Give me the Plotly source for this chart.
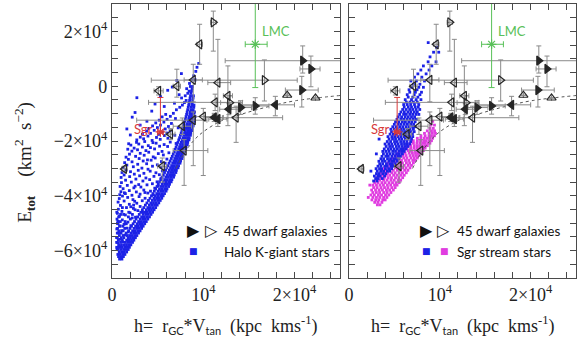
import plotly.graph_objects as go

# Units used in the data tables below:
#   h  in 10^3 kpc km s^-1,   E_tot in 10^3 km^2 s^-2
K = 1000.0

# ---------------------------------------------------------------------------
# Halo K-giant stars (left panel)
# dense ridge close to the high-h envelope: rows of (E_tot, [h values])
# ---------------------------------------------------------------------------
HALO_RIDGE_ROWS = [
    (-63.1, [0.82, 1.08]), (-62.2, [0.71, 0.98, 1.24]),
    (-61.4, [0.63, 0.90, 1.17, 1.41]), (-60.5, [0.78, 1.05, 1.33, 1.60]),
    (-59.6, [0.69, 1.00, 1.28, 1.52, 1.77]), (-58.8, [0.51, 0.80, 1.10, 1.39, 1.66, 1.90]),
    (-57.9, [0.72, 1.03, 1.31, 1.58, 1.84, 2.06]), (-57.0, [0.50, 0.93, 1.44, 1.71, 1.99, 2.24]),
    (-56.2, [0.68, 1.12, 1.60, 1.87, 2.13, 2.39]), (-55.3, [0.58, 1.01, 1.29, 1.76, 2.02, 2.30, 2.56]),
    (-54.5, [0.80, 1.21, 1.67, 1.94, 2.21, 2.48, 2.72]), (-53.6, [0.57, 0.99, 1.55, 2.08, 2.36, 2.63, 2.90]),
    (-52.8, [0.74, 1.22, 1.82, 2.25, 2.52, 2.81, 3.07]), (-51.9, [0.60, 1.39, 1.97, 2.41, 2.69, 2.96, 3.24]),
    (-51.1, [0.82, 1.19, 2.13, 2.58, 2.86, 3.14, 3.41]), (-50.2, [0.66, 1.56, 2.31, 2.75, 3.02, 3.31, 3.58]),
    (-49.4, [0.90, 1.43, 2.46, 2.91, 3.20, 3.47, 3.75]), (-48.5, [0.54, 2.00, 2.63, 3.08, 3.36, 3.64, 3.92]),
    (-47.7, [0.72, 1.79, 2.82, 3.24, 3.53, 3.81, 4.10]), (-46.8, [0.93, 2.23, 2.98, 3.41, 3.70, 3.98, 4.27]),
    (-46.0, [0.52, 1.83, 3.15, 3.58, 3.87, 4.15, 4.44]), (-45.1, [2.52, 3.32, 3.75, 4.03, 4.32, 4.61]),
    (-44.3, [1.13, 3.48, 3.92, 4.20, 4.49, 4.78]), (-43.4, [2.36, 3.65, 4.09, 4.37, 4.66, 4.95]),
    (-42.6, [3.82, 4.25, 4.54, 4.83, 5.12]), (-41.7, [3.99, 4.42, 4.71, 5.00, 5.28]),
    (-40.9, [4.16, 4.59, 4.88, 5.17, 5.45]), (-40.0, [4.32, 4.75, 5.04, 5.33, 5.60]),
    (-39.2, [4.48, 4.90, 5.19, 5.48, 5.75]), (-38.3, [4.63, 5.05, 5.34, 5.63, 5.92]),
    (-37.5, [4.78, 5.20, 5.49, 5.78, 6.02]), (-36.6, [4.93, 5.35, 5.63, 5.92, 6.20]),
    (-35.8, [5.07, 5.49, 5.77, 6.06, 6.30]), (-34.9, [5.21, 5.63, 5.91, 6.20, 6.48]),
    (-34.1, [5.35, 5.77, 6.05, 6.33, 6.56]), (-33.2, [5.49, 5.90, 6.18, 6.46, 6.74]),
    (-32.4, [5.62, 6.03, 6.31, 6.59, 6.82]), (-31.5, [5.75, 6.16, 6.44, 6.72, 6.99]),
    (-30.7, [5.88, 6.29, 6.57, 6.84, 7.05]), (-29.8, [6.01, 6.41, 6.69, 6.96, 7.23]),
    (-29.0, [6.13, 6.53, 6.81, 7.08, 7.29]), (-28.1, [6.25, 6.65, 6.93, 7.19, 7.45]),
    (-27.3, [6.37, 6.77, 7.04, 7.30, 7.51]), (-26.4, [6.49, 6.88, 7.15, 7.41, 7.67]),
    (-25.6, [6.60, 6.99, 7.26, 7.52, 7.72]), (-24.7, [6.71, 7.10, 7.37, 7.62, 7.87]),
    (-23.9, [6.82, 7.20, 7.47, 7.72, 7.92]), (-23.0, [6.92, 7.30, 7.57, 7.82, 8.07]),
    (-22.2, [7.02, 7.40, 7.67, 7.92, 8.11]), (-21.3, [7.12, 7.50, 7.77, 8.01, 8.25]),
    (-20.5, [7.22, 7.60, 7.86, 8.10, 8.29]), (-19.6, [7.31, 7.69, 7.95, 8.19, 8.43]),
    (-18.8, [7.40, 7.78, 8.04, 8.28, 8.46]), (-17.9, [7.49, 7.87, 8.13, 8.36, 8.59]),
    (-17.1, [7.58, 7.95, 8.21, 8.44, 8.62]), (-16.2, [7.66, 8.03, 8.29, 8.52, 8.75]),
    (-15.4, [7.74, 8.11, 8.37, 8.60, 8.77]), (-14.5, [7.82, 8.19, 8.45, 8.67, 8.89]),
    (-13.7, [7.90, 8.26, 8.52, 8.74, 8.91]), (-12.8, [7.97, 8.33, 8.59, 8.81, 9.02]),
    (-12.0, [8.04, 8.40, 8.66, 8.87, 9.03]), (-11.1, [8.11, 8.47, 8.72, 8.93, 9.10]),
    (-10.3, [8.17, 8.53, 8.78, 8.98]), (-9.4, [8.23, 8.59, 8.84, 9.05]),
    (-8.6, [7.05, 8.29, 8.64, 8.89]), (-7.7, [7.42, 8.35, 8.69, 8.96]),
    (-6.9, [7.71, 8.40, 8.74, 8.98]), (-6.0, [7.93, 8.45, 8.79]),
    (-5.2, [8.12, 8.50, 8.84]), (-4.3, [7.62, 8.55, 8.88]),
    (-3.5, [8.02, 8.60, 8.92]), (-2.6, [8.30, 8.65]),
    (-1.8, [8.44, 8.71]), (-0.9, [8.18, 8.77]),
    (-0.1, [8.58, 8.83]), (1.0, [8.49]), (2.3, [8.81, 9.12]),
    (3.8, [8.95]), (5.4, [9.18]), (6.9, [9.31]), (8.3, [9.50]),
]

# interior of the halo distribution: individual (h, E_tot) points
HALO_SCATTER = [
    (0.55, -59.4), (0.92, -58.6), (0.61, -57.1), (1.18, -56.8), (0.83, -55.9),
    (0.49, -55.2), (1.42, -54.3), (0.71, -53.6), (1.05, -52.7), (0.52, -52.1),
    (1.63, -51.8), (0.88, -51.0), (1.31, -50.4), (0.59, -50.1), (2.05, -50.9),
    (1.77, -53.2), (0.63, -49.3), (1.12, -48.8), (1.74, -49.6), (2.21, -48.1),
    (0.81, -47.5), (1.46, -47.0), (2.57, -47.8), (0.58, -46.4), (1.97, -46.2),
    (1.08, -45.7), (2.83, -45.4), (0.69, -44.9), (1.58, -44.3), (2.34, -44.6),
    (3.08, -43.9), (0.92, -43.5), (1.89, -43.1), (2.71, -42.7), (0.66, -42.3),
    (1.32, -41.9), (2.29, -41.4), (3.31, -41.8), (0.79, -41.0), (1.71, -40.6),
    (2.96, -40.3), (3.62, -40.9), (1.14, -40.1), (2.48, -42.0), (1.27, -46.8),
    (3.34, -45.9), (2.05, -44.0), (0.84, -39.6), (1.46, -39.2), (2.18, -39.8),
    (3.07, -39.4), (3.92, -39.0), (4.51, -39.7), (0.97, -38.5), (1.89, -38.1),
    (2.66, -38.6), (3.48, -37.9), (4.21, -38.3), (1.21, -37.4), (2.39, -37.1),
    (3.16, -36.8), (4.68, -37.2), (0.88, -36.6), (1.67, -36.2), (2.92, -35.9),
    (3.83, -36.0), (4.42, -35.6), (5.04, -36.4), (1.03, -35.2), (2.11, -35.0),
    (3.38, -34.6), (4.93, -34.9), (1.48, -34.3), (2.61, -33.9), (4.12, -34.1),
    (5.36, -33.7), (0.99, -33.3), (1.93, -33.0), (3.02, -32.7), (3.71, -33.5),
    (4.59, -32.9), (1.32, -32.4), (2.44, -32.1), (3.49, -31.8), (5.18, -32.3),
    (1.09, -31.5), (2.02, -31.2), (4.18, -31.0), (2.87, -30.7), (3.94, -30.3),
    (1.56, -30.6), (5.51, -30.9), (4.81, -31.6), (2.53, -36.5), (1.35, -38.9),
    (3.60, -38.8), (1.21, -29.7), (2.33, -29.4), (3.27, -29.9), (4.43, -29.2),
    (5.35, -29.6), (1.62, -28.8), (2.81, -28.5), (3.79, -28.3), (4.96, -28.7),
    (5.82, -28.1), (1.38, -27.9), (2.19, -27.6), (3.41, -27.3), (4.28, -27.0),
    (5.41, -27.5), (1.79, -26.7), (2.97, -26.4), (3.88, -26.9), (4.73, -26.2),
    (6.01, -26.6), (1.53, -25.9), (2.58, -25.6), (3.52, -25.2), (4.51, -25.8),
    (5.62, -25.1), (1.91, -24.8), (3.09, -24.5), (4.02, -24.1), (5.07, -24.6),
    (6.23, -24.3), (2.17, -23.7), (2.79, -23.2), (3.71, -23.5), (4.66, -22.9),
    (5.48, -23.8), (2.42, -22.6), (3.32, -22.2), (4.21, -22.4), (5.21, -21.9),
    (6.09, -22.0), (2.06, -21.5), (2.93, -21.1), (3.97, -21.7), (4.83, -20.8),
    (5.71, -21.3), (2.68, -20.5), (3.58, -20.2), (4.48, -20.6), (6.38, -20.4),
    (1.72, -23.0), (2.71, -19.6), (3.46, -19.2), (4.39, -19.8), (5.28, -19.4),
    (6.12, -19.0), (3.09, -18.6), (3.93, -18.2), (4.87, -18.7), (5.74, -18.0),
    (3.33, -17.5), (4.21, -17.2), (5.09, -17.6), (6.02, -17.1), (3.78, -16.4),
    (4.62, -16.1), (5.51, -16.7), (6.37, -16.3), (4.02, -15.4), (4.97, -15.1),
    (5.83, -15.6), (4.44, -14.5), (5.31, -14.2), (6.18, -14.7), (4.79, -13.4),
    (5.68, -13.1), (6.51, -13.6), (5.17, -12.4), (6.03, -12.1), (5.49, -11.2),
    (6.39, -11.0), (5.88, -10.3), (6.72, -9.9), (4.35, -9.1), (3.82, -12.8),
    (3.08, -14.2), (4.71, -6.5), (5.31, -3.8), (6.10, -1.5), (5.72, -7.4),
    (7.10, 2.1), (7.60, 4.6), (6.60, -0.3), (2.21, -11.3), (2.52, -9.6),
    (2.72, -4.2), (1.62, -15.6), (1.82, -21.0), (2.00, -17.8), (6.84, -6.2),
    (7.35, -3.1), (6.95, -11.8), (7.25, -15.2), (6.88, -17.9), (7.02, -20.9),
]

# ---------------------------------------------------------------------------
# Sgr stream stars (right panel): rows of (E_tot, [h values])
# ---------------------------------------------------------------------------
SGR_BLUE_ROWS = [
    (-34.6, [2.71, 3.08]), (-33.7, [2.93, 3.21, 3.66]),
    (-32.8, [2.79, 3.17, 3.43, 3.92]), (-31.9, [3.02, 3.31, 3.72, 4.05]),
    (-31.0, [2.41, 3.11, 3.49, 3.81, 4.22, 4.48]), (-30.1, [2.98, 3.36, 3.59, 4.01, 4.37, 4.69]),
    (-29.2, [3.19, 3.52, 3.94, 4.21, 4.63, 4.88]), (-28.3, [3.38, 3.71, 4.12, 4.49, 4.77, 5.08]),
    (-27.4, [3.29, 3.68, 3.97, 4.39, 4.71, 4.96, 5.31]), (-26.5, [3.51, 3.82, 4.24, 4.57, 4.92, 5.19, 5.47]),
    (-25.6, [3.63, 4.05, 4.33, 4.72, 5.08, 5.41, 5.66]), (-24.7, [3.01, 3.79, 4.18, 4.52, 4.87, 5.23, 5.54, 5.88]),
    (-23.8, [3.72, 4.07, 4.41, 4.81, 5.12, 5.49, 5.79, 6.07]), (-22.9, [3.88, 4.31, 4.62, 4.98, 5.33, 5.68, 5.99, 6.28]),
    (-22.0, [4.09, 4.48, 4.79, 5.21, 5.52, 5.87, 6.21, 6.49]), (-21.1, [3.97, 4.38, 4.71, 5.08, 5.41, 5.78, 6.11, 6.39, 6.68]),
    (-20.2, [4.21, 4.58, 5.01, 5.29, 5.69, 6.02, 6.37, 6.79]), (-19.3, [3.31, 4.41, 4.79, 5.12, 5.51, 5.81, 6.19, 6.52, 6.88]),
    (-18.4, [4.29, 4.72, 5.03, 5.38, 5.72, 6.09, 6.41, 6.71, 7.02]), (-17.5, [4.52, 4.88, 5.21, 5.62, 5.91, 6.28, 6.61, 6.98]),
    (-16.6, [4.68, 5.12, 5.39, 5.79, 6.12, 6.49, 6.82, 7.18]), (-15.7, [4.61, 4.98, 5.32, 5.71, 6.02, 6.38, 6.72, 7.09]),
    (-14.8, [4.82, 5.19, 5.58, 5.92, 6.29, 6.62, 7.01, 7.31]), (-13.9, [4.99, 5.41, 5.72, 6.08, 6.43, 6.79, 7.12]),
    (-13.0, [5.12, 5.49, 5.88, 6.21, 6.58, 6.91, 7.28]), (-12.1, [5.28, 5.71, 6.02, 6.38, 6.72, 7.08, 7.41]),
    (-11.2, [5.41, 5.79, 6.18, 6.52, 6.88, 7.22]), (-10.3, [5.58, 6.01, 6.31, 6.69, 7.02, 7.38, 7.69]),
    (-9.4, [5.72, 6.09, 6.48, 6.81, 7.19, 7.52]), (-8.5, [5.91, 6.29, 6.68, 7.01, 7.39, 7.79]),
    (-7.6, [6.08, 6.52, 6.88, 7.28, 7.62]), (-6.7, [6.02, 6.41, 6.79, 7.21, 7.68]),
    (-5.8, [6.31, 6.72, 7.09, 7.51]), (-4.9, [6.19, 6.88, 7.39, 7.92]),
    (-4.0, [6.52, 7.02, 7.58]), (-3.1, [6.41, 7.18, 7.81]),
    (-2.2, [6.69, 7.31, 7.98]), (-1.3, [6.61, 7.49]),
    (-0.4, [6.92, 7.68, 8.19]), (0.7, [7.09, 7.81]),
    (1.9, [6.81, 7.42, 8.31]), (3.3, [7.21, 8.02]),
    (4.5, [7.58, 8.49]), (5.9, [7.91, 8.81]),
    (7.4, [8.19, 9.12]), (8.9, [8.71, 9.58]),
    (10.7, [8.92]), (12.4, [9.31, 9.88]), (14.2, [9.62]), (15.9, [8.72]),
]

SGR_MAGENTA_ROWS = [
    (-43.3, [3.12, 3.41]), (-42.4, [2.83, 3.19, 3.62]),
    (-41.5, [2.52, 2.94, 3.28, 3.71, 3.98]), (-40.6, [2.12, 2.63, 3.02, 3.39, 3.81, 4.17]),
    (-39.7, [2.41, 2.79, 3.23, 3.58, 4.02, 4.38]), (-38.8, [2.62, 3.01, 3.37, 3.82, 4.19, 4.61]),
    (-37.9, [2.49, 2.92, 3.31, 3.68, 4.12, 4.48, 4.88]), (-37.0, [2.71, 3.09, 3.52, 3.91, 4.28, 4.71, 5.08]),
    (-36.1, [2.29, 2.63, 3.02, 3.41, 3.79, 4.22, 4.59, 5.01, 5.29]),
    (-35.2, [2.82, 3.19, 3.62, 3.98, 4.41, 4.79, 5.18, 5.52]),
    (-34.3, [3.01, 3.38, 3.81, 4.19, 4.62, 4.98, 5.41, 5.69]),
    (-33.4, [3.09, 3.52, 3.88, 4.31, 4.68, 5.12, 5.49, 5.91]),
    (-32.5, [3.32, 3.69, 4.12, 4.48, 4.91, 5.28, 5.72, 6.08]),
    (-31.6, [3.49, 3.92, 4.28, 4.71, 5.08, 5.52, 5.88, 6.31]),
    (-30.7, [3.71, 4.08, 4.52, 4.88, 5.32, 5.69, 6.12, 6.48]),
    (-29.8, [3.88, 4.31, 4.68, 5.12, 5.48, 5.92, 6.28, 6.71]),
    (-28.9, [4.12, 4.49, 4.92, 5.28, 5.72, 6.08, 6.52, 6.88]),
    (-28.0, [4.28, 4.72, 5.08, 5.52, 5.88, 6.32, 6.68, 7.09]),
    (-27.1, [4.61, 4.98, 5.42, 5.78, 6.22, 6.58, 7.02, 7.31]),
    (-26.2, [4.78, 5.22, 5.58, 6.02, 6.38, 6.82, 7.18, 7.52]),
    (-25.3, [5.12, 5.48, 5.92, 6.28, 6.72, 7.08, 7.42, 7.71]),
    (-24.4, [5.38, 5.82, 6.18, 6.62, 6.98, 7.32, 7.62, 7.92]),
    (-23.5, [5.72, 6.08, 6.52, 6.88, 7.28, 7.61, 7.88, 8.19]),
    (-22.6, [6.02, 6.38, 6.82, 7.18, 7.52, 7.81, 8.12, 8.38]),
    (-21.7, [6.41, 6.78, 7.18, 7.52, 7.82, 8.08, 8.41, 8.62]),
    (-20.8, [6.72, 7.09, 7.48, 7.82, 8.11, 8.38, 8.69, 8.91]),
    (-19.9, [7.08, 7.52, 7.88, 8.22, 8.48, 8.81, 9.08]),
    (-19.0, [7.52, 7.91, 8.28, 8.62, 8.88, 9.21]),
    (-18.1, [7.92, 8.38, 8.81, 9.08, 9.41]),
    (-17.2, [8.31, 8.82, 9.18, 9.52]),
    (-16.3, [8.62, 9.08, 9.42]), (-15.4, [8.91, 9.28]),
    (-14.2, [9.02, 9.41]), (-12.8, [9.22]),
]

# ---------------------------------------------------------------------------
# Dwarf galaxies: position, marker style and asymmetric errors
# ---------------------------------------------------------------------------
DW_H = [11.1, 9.6, 8.9, 7.1, 5.1, 11.6, 12.7, 11.3, 12.9, 14.1,
        12.8, 15.7, 17.9, 20.8, 19.2, 22.3, 20.9, 21.8, 16.7, 13.6,
        11.2, 11.6, 10.0, 8.9, 7.7, 6.4, 7.9, 5.5, 1.35]
DW_E = [23.3, 15.3, 2.3, 0.0, -1.7, 1.3, -3.5, -5.9, -6.0, -7.8,
        -8.4, -7.2, -6.8, -1.4, -3.3, -4.3, 9.3, 6.3, 2.2, -11.5,
        -11.4, -12.0, -11.1, -12.4, -14.6, -17.5, -23.5, -29.2, -30.2]
DW_SYMBOL = ["triangle-right-open", "triangle-left-open", "triangle-left-open",
             "triangle-left-open", "triangle-left-open", "triangle-left-open",
             "triangle-left-open", "triangle-left-open", "triangle-right-open",
             "triangle-right", "triangle-left", "triangle-right", "triangle-left",
             "triangle-right", "triangle-up-open", "triangle-up-open",
             "triangle-right", "triangle-right", "triangle-right-open",
             "triangle-left-open", "triangle-left", "triangle-left",
             "triangle-left-open", "triangle-left-open", "triangle-left-open",
             "triangle-left-open", "triangle-left-open", "triangle-left-open",
             "triangle-left-open"]
DW_H_MINUS = [0.3, 0.3, 1.0, 0.4, 0.5, 1.1, 0.5, 7.3, 1.0, 1.0,
              1.0, 1.5, 3.6, 1.8, 0.0, 0.0, 8.5, 1.2, 12.4, 1.5,
              1.0, 1.0, 1.0, 6.2, 1.0, 0.5, 1.2, 0.5, 0.3]
DW_H_PLUS = [0.3, 0.3, 1.0, 0.4, 0.5, 1.4, 0.5, 3.0, 1.0, 1.2,
             1.0, 1.5, 2.1, 1.8, 0.0, 0.0, 5.0, 1.0, 3.6, 5.1,
             1.0, 1.0, 1.0, 1.5, 1.0, 0.5, 2.6, 0.5, 0.3]
DW_E_MINUS = [10.5, 7.3, 8.0, 4.0, 1.5, 16.0, 10.9, 3.0, 2.5, 2.5,
              2.0, 3.0, 4.0, 6.2, 0.0, 0.0, 4.5, 6.5, 7.6, 9.0,
              1.5, 1.5, 21.5, 16.6, 3.0, 2.0, 12.7, 5.8, 1.0]
DW_E_PLUS = [4.1, 7.3, 5.7, 6.2, 1.5, 15.8, 10.9, 3.0, 2.5, 2.5,
             2.0, 3.0, 3.1, 5.0, 0.0, 0.0, 5.4, 4.7, 7.4, 4.2,
             1.5, 1.5, 3.0, 3.0, 3.0, 2.0, 4.0, 3.0, 1.0]

# Named satellites: (h, E, h-, h+, E-, E+)
LMC = (15.7, 15.3, 1.1, 1.3, 15.8, 20.0)
SGR = (5.3, -16.7, 0.3, 0.3, 0.5, 12.6)

# Dotted reference curve
CURVE_H = [7.0, 8.0, 9.5, 12.0, 14.2, 17.2, 20.1, 25.0]
CURVE_E = [-30.0, -24.0, -18.0, -12.6, -10.2, -7.4, -5.3, -3.4]

# Axis ticks
X_TICKS = list(range(0, 25000, 2000))
X_LABELS = {0: "0", 10000: "10<sup>4</sup>", 20000: "2×10<sup>4</sup>"}
Y_TICKS = list(range(-70000, 30001, 5000))
Y_LABELS = {-60000: "−6×10<sup>4</sup>", -40000: "−4×10<sup>4</sup>",
            -20000: "−2×10<sup>4</sup>", 0: "0", 20000: "2×10<sup>4</sup>"}

BLUE = "#1c22e6"
MAGENTA = "#e03ce0"
GREEN = "#58c058"
RED = "#d83a3a"
GREY_ERR = "#8a8a8a"
FRAME = "#4a4a4a"
SERIF = "Liberation Serif"
SANS = "Lato"


def unpack_rows(rows):
    xs, ys = [], []
    for e, hs in rows:
        for h in hs:
            xs.append(h * K)
            ys.append(e * K)
    return xs, ys


def unpack_pairs(pairs):
    return [h * K for h, _ in pairs], [e * K for _, e in pairs]


def scaled(values):
    return [v * K for v in values]


fig = go.Figure()


def add_cloud(xs, ys, color, xa, ya, size=2.8):
    fig.add_trace(go.Scatter(
        x=xs, y=ys, mode="markers", xaxis=xa, yaxis=ya, hoverinfo="skip",
        marker=dict(symbol="square", size=size, color=color, line=dict(width=0)),
        showlegend=False))


def add_common(xa, ya):
    # reference curve
    fig.add_trace(go.Scatter(
        x=scaled(CURVE_H), y=scaled(CURVE_E), mode="lines", xaxis=xa, yaxis=ya,
        line=dict(color="#555555", width=1, dash="dot", shape="spline"),
        showlegend=False, hoverinfo="skip"))
    # dwarf galaxies with error bars
    fig.add_trace(go.Scatter(
        x=scaled(DW_H), y=scaled(DW_E), mode="markers", xaxis=xa, yaxis=ya,
        error_x=dict(type="data", symmetric=False, array=scaled(DW_H_PLUS),
                     arrayminus=scaled(DW_H_MINUS), color=GREY_ERR,
                     thickness=1, width=2.5),
        error_y=dict(type="data", symmetric=False, array=scaled(DW_E_PLUS),
                     arrayminus=scaled(DW_E_MINUS), color=GREY_ERR,
                     thickness=1, width=2.5),
        marker=dict(symbol=DW_SYMBOL, size=8, color="#262626",
                    line=dict(width=1.2, color="#262626")),
        showlegend=False, hoverinfo="skip"))
    # LMC and Sgr
    for (h, e, hm, hp, em, ep), col in ((LMC, GREEN), (SGR, RED)):
        fig.add_trace(go.Scatter(
            x=[h * K], y=[e * K], mode="markers", xaxis=xa, yaxis=ya,
            error_x=dict(type="data", symmetric=False, array=[hp * K],
                         arrayminus=[hm * K], color=col, thickness=1, width=3),
            error_y=dict(type="data", symmetric=False, array=[ep * K],
                         arrayminus=[em * K], color=col, thickness=1, width=3),
            marker=dict(symbol="asterisk-open", size=8, color=col,
                        line=dict(width=1.2, color=col)),
            showlegend=False, hoverinfo="skip"))


# Left panel: halo K giants
hx1, hy1 = unpack_pairs(HALO_SCATTER)
hx2, hy2 = unpack_rows(HALO_RIDGE_ROWS)
add_cloud(hx1 + hx2, hy1 + hy2, BLUE, "x", "y")
add_common("x", "y")
# Right panel: Sgr stream stars
mx, my = unpack_rows(SGR_MAGENTA_ROWS)
add_cloud(mx, my, MAGENTA, "x2", "y2")
bx, by = unpack_rows(SGR_BLUE_ROWS)
add_cloud(bx, by, BLUE, "x2", "y2")
add_common("x2", "y2")

tick_font = dict(family=SERIF, size=18, color="#222222")
axis_common = dict(showline=True, linecolor=FRAME, linewidth=1.3, mirror="ticks",
                   ticks="inside", ticklen=6, tickwidth=1.1, tickcolor=FRAME,
                   showgrid=False, zeroline=False, tickfont=tick_font)

x_text = [X_LABELS.get(v, "") for v in X_TICKS]
y_text = [Y_LABELS.get(v, "") for v in Y_TICKS]

fig.update_layout(
    width=582, height=342,
    margin=dict(l=0, r=0, t=0, b=0),
    paper_bgcolor="white", plot_bgcolor="white",
    xaxis=dict(domain=[108 / 582, 338 / 582], range=[0, 25000], anchor="y",
               tickmode="array", tickvals=X_TICKS, ticktext=x_text, **axis_common),
    xaxis2=dict(domain=[347 / 582, 576 / 582], range=[0, 25000], anchor="y2",
                tickmode="array", tickvals=X_TICKS, ticktext=x_text, **axis_common),
    yaxis=dict(domain=[64 / 342, 338 / 342], range=[-70000, 30000], anchor="x",
               tickmode="array", tickvals=Y_TICKS, ticktext=y_text, **axis_common),
    yaxis2=dict(domain=[64 / 342, 338 / 342], range=[-70000, 30000], anchor="x2",
                tickmode="array", tickvals=Y_TICKS, ticktext=y_text,
                showticklabels=False, **axis_common),
)

legend_font = dict(family=SANS, size=13.5, color="#111111")
sym_font = dict(family="DejaVu Sans", size=16, color="#111111")
annotations = []


def legend(xref, yref, fx, ox, tx, squares, row2_text):
    annotations.extend([
        dict(xref=xref, yref=yref, x=fx, y=0.172, text="▶", showarrow=False,
             font=sym_font, xanchor="center", yanchor="middle"),
        dict(xref=xref, yref=yref, x=ox, y=0.172, text="▷", showarrow=False,
             font=sym_font, xanchor="center", yanchor="middle"),
        dict(xref=xref, yref=yref, x=tx, y=0.172, text="45 dwarf galaxies",
             showarrow=False, font=legend_font, xanchor="left", yanchor="middle"),
        dict(xref=xref, yref=yref, x=tx, y=0.095, text=row2_text,
             showarrow=False, font=legend_font, xanchor="left", yanchor="middle"),
    ])
    for px, col in squares:
        annotations.append(dict(xref=xref, yref=yref, x=px, y=0.097, text="■",
                                showarrow=False, xanchor="center", yanchor="middle",
                                font=dict(family="DejaVu Sans", size=9, color=col)))


legend("x domain", "y domain", 0.357, 0.435, 0.483, [(0.357, BLUE)],
       "Halo K-giant stars")
legend("x2 domain", "y2 domain", 0.341, 0.414, 0.467,
       [(0.341, BLUE), (0.419, MAGENTA)], "Sgr stream stars")

# Satellite labels
for xa, ya in (("x", "y"), ("x2", "y2")):
    annotations.append(dict(xref=xa, yref=ya, x=16200, y=20000, text="LMC",
                            showarrow=False, xanchor="left", yanchor="middle",
                            font=dict(family=SANS, size=13, color=GREEN)))
    annotations.append(dict(xref=xa, yref=ya, x=4700, y=-15800, text="Sgr",
                            showarrow=False, xanchor="right", yanchor="middle",
                            font=dict(family=SANS, size=13, color=RED)))

# Axis titles
NB = "\u00a0"
sub = '<span style="font-family:Lato;font-size:11px">'
x_title = ("h=" + NB * 2 + "r<sub>" + sub + "GC</span></sub>*V<sub>" + sub +
           "tan</span></sub>" + NB * 2 + "(kpc" + NB * 2 + "kms<sup>-1</sup>)")
for xd in ("x domain", "x2 domain"):
    annotations.append(dict(xref=xd, yref="paper", x=0.5, y=1 - 325 / 342,
                            text=x_title, showarrow=False, xanchor="center",
                            yanchor="middle",
                            font=dict(family=SERIF, size=18, color="#222222")))

y_title = ("E<sub><b>tot</b></sub>" + NB * 4 + "(km<sup>2</sup>" + NB * 2 +
           "s<sup>−2</sup>)")
annotations.append(dict(xref="paper", yref="paper", x=20 / 582, y=1 - 162 / 342,
                        text=y_title, showarrow=False, textangle=-90,
                        xanchor="center", yanchor="middle",
                        font=dict(family=SERIF, size=19, color="#222222")))

fig.update_layout(annotations=annotations)
fig.write_html("out.html")
